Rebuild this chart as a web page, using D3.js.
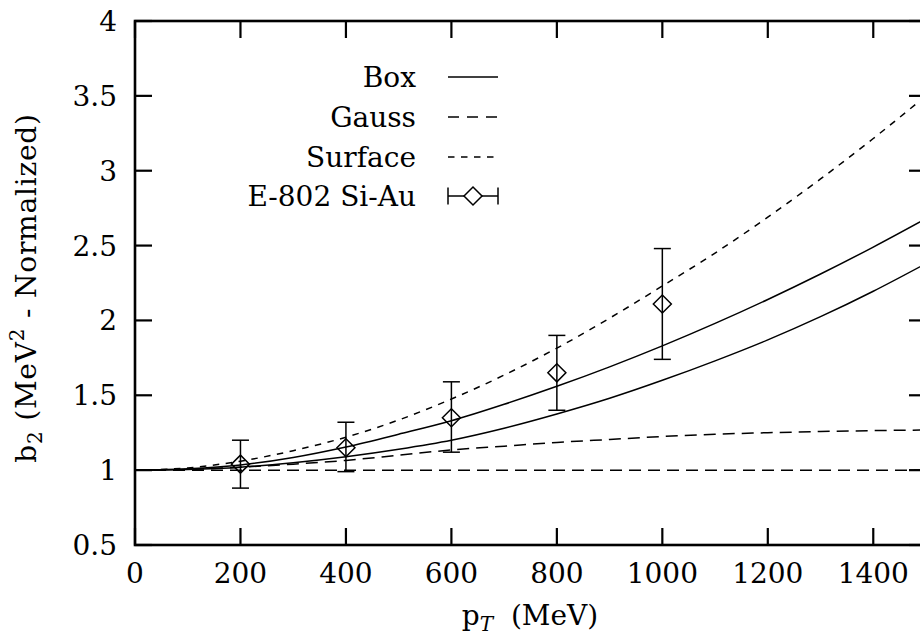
<!DOCTYPE html>
<html>
<head>
<meta charset="utf-8">
<script src="https://cdn.jsdelivr.net/npm/d3@7"></script>
<style>
  body { margin: 0; background: #fff; }
  svg text { font-family: "DejaVu Serif", "Liberation Serif", serif; font-size: 28px; fill: #000; }
</style>
</head>
<body>
<svg id="plot" width="920" height="635"></svg>
<script>
var pT = [0,100,200,300,400,500,600,700,800,900,1000,1100,1200,1300,1400,1500];
var boxUpper = [1.00,1.01,1.035,1.085,1.155,1.24,1.33,1.44,1.56,1.69,1.83,1.98,2.14,2.31,2.49,2.68];
var boxLower = [1.00,1.005,1.02,1.05,1.09,1.14,1.20,1.28,1.375,1.48,1.60,1.73,1.87,2.025,2.195,2.38];
var gaussUpper = [1.00,1.005,1.02,1.04,1.065,1.10,1.135,1.16,1.185,1.205,1.225,1.24,1.25,1.258,1.264,1.268];
var gaussLower = [1.00,1.00,1.00,1.00,1.00,1.00,1.00,1.00,1.00,1.00,1.00,1.00,1.00,1.00,1.00,1.00];
var surface = [1.00,1.015,1.06,1.13,1.22,1.335,1.475,1.635,1.815,2.015,2.23,2.45,2.69,2.945,3.215,3.50];

// E-802 Si-Au points with error bars
var expX = [200,400,600,800,1000];
var expY = [1.04,1.15,1.35,1.65,2.11];
var expLo = [0.88,0.99,1.12,1.40,1.74];
var expHi = [1.20,1.32,1.59,1.90,2.48];

var xTicks = [0,200,400,600,800,1000,1200,1400];
var yTicks = [0.5,1,1.5,2,2.5,3,3.5,4];
var legendNames = ["Box","Gauss","Surface","E-802 Si-Au"];

var svg = d3.select("#plot");

// plot box in pixels (right edge falls just past the window)
var pL = 135, pR = 926, pT0 = 21, pB = 545;

var x = d3.scaleLinear().domain([0,1500]).range([pL,pR]);
var y = d3.scaleLinear().domain([0.5,4]).range([pB,pT0]);

var tickLen = 17;

// ticks, all pointing in
var ticks = svg.append("g").attr("stroke","#000").attr("stroke-width",2.2);
xTicks.forEach(function(t) {
  ticks.append("line").attr("x1",x(t)).attr("x2",x(t)).attr("y1",pB).attr("y2",pB-tickLen);
  ticks.append("line").attr("x1",x(t)).attr("x2",x(t)).attr("y1",pT0).attr("y2",pT0+tickLen);
});
yTicks.forEach(function(t) {
  ticks.append("line").attr("x1",pL).attr("x2",pL+tickLen).attr("y1",y(t)).attr("y2",y(t));
  ticks.append("line").attr("x1",pR).attr("x2",pR-tickLen).attr("y1",y(t)).attr("y2",y(t));
});

// tick labels
svg.selectAll(".xlab")
    .data(xTicks)
  .enter().append("text")
    .attr("class","xlab")
    .attr("x", function(d) { return x(d); })
    .attr("y", 583)
    .attr("text-anchor","middle")
    .text(function(d) { return d; });

svg.selectAll(".ylab")
    .data(yTicks)
  .enter().append("text")
    .attr("class","ylab")
    .attr("x", 117)
    .attr("y", function(d) { return y(d) + 10; })
    .attr("text-anchor","end")
    .text(function(d) { return d; });

// frame
svg.append("rect")
    .attr("x",pL).attr("y",pT0)
    .attr("width",pR-pL).attr("height",pB-pT0)
    .attr("fill","none").attr("stroke","#000").attr("stroke-width",2.6);

// axis titles
var xt = svg.append("text").attr("x",530).attr("y",625).attr("text-anchor","middle");
xt.append("tspan").text("p");
xt.append("tspan").attr("font-style","italic").attr("font-size","20px").attr("dy",6).text("T");
xt.append("tspan").attr("dy",-6).text("\u00a0\u00a0(MeV)");

var yt = svg.append("text")
    .attr("transform","translate(36,288) rotate(-90)")
    .attr("text-anchor","middle")
    .attr("letter-spacing","0.8px");
yt.append("tspan").text("b");
yt.append("tspan").attr("font-size","20px").attr("dy",6).text("2");
yt.append("tspan").attr("dy",-6).text("\u00a0(MeV");
yt.append("tspan").attr("font-size","20px").attr("dy",-12).text("2");
yt.append("tspan").attr("dy",12).text("\u00a0-\u00a0Normalized)");

// curves
var line = d3.line()
    .x(function(d, i) { return x(pT[i]); })
    .y(function(d) { return y(d); })
    .curve(d3.curveMonotoneX);

var curves = [
  {vals: boxUpper, dash: null},
  {vals: boxLower, dash: null},
  {vals: gaussUpper, dash: "12,7"},
  {vals: gaussLower, dash: "12,7"},
  {vals: surface, dash: "6.5,6.5"}
];

svg.selectAll(".curve")
    .data(curves)
  .enter().append("path")
    .attr("class","curve")
    .attr("d", function(d) { return line(d.vals); })
    .attr("fill","none")
    .attr("stroke","#000")
    .attr("stroke-width",1.5)
    .attr("stroke-dasharray", function(d) { return d.dash; });

// data points
var capW = 8.5, dSize = 9;
var pts = svg.append("g").attr("stroke","#000").attr("stroke-width",1.5).attr("fill","none");
expX.forEach(function(px, i) {
  var cx = x(px);
  pts.append("line").attr("x1",cx).attr("x2",cx).attr("y1",y(expLo[i])).attr("y2",y(expHi[i]));
  pts.append("line").attr("x1",cx-capW).attr("x2",cx+capW).attr("y1",y(expLo[i])).attr("y2",y(expLo[i]));
  pts.append("line").attr("x1",cx-capW).attr("x2",cx+capW).attr("y1",y(expHi[i])).attr("y2",y(expHi[i]));
  var cy = y(expY[i]);
  pts.append("path")
     .attr("d","M"+(cx-dSize)+","+cy+"L"+cx+","+(cy-dSize)+"L"+(cx+dSize)+","+cy+"L"+cx+","+(cy+dSize)+"Z");
});

// legend
var legY = [77,117,157,196];
var lx1 = 448, lx2 = 498;
svg.selectAll(".legText")
    .data(legendNames)
  .enter().append("text")
    .attr("class","legText")
    .attr("x",416)
    .attr("y", function(d, i) { return legY[i] + 10; })
    .attr("text-anchor","end")
    .text(function(d) { return d; });

var legDash = [null,"11,8","6.5,6.5"];
var leg = svg.append("g").attr("stroke","#000").attr("stroke-width",1.5).attr("fill","none");
legDash.forEach(function(ds, i) {
  leg.append("line").attr("x1",lx1).attr("x2",lx2).attr("y1",legY[i]).attr("y2",legY[i])
     .attr("stroke-dasharray",ds);
});
var ly = legY[3], lc = (lx1+lx2)/2;
leg.append("line").attr("x1",lx1).attr("x2",lx2).attr("y1",ly).attr("y2",ly);
leg.append("line").attr("x1",lx1).attr("x2",lx1).attr("y1",ly-capW).attr("y2",ly+capW);
leg.append("line").attr("x1",lx2).attr("x2",lx2).attr("y1",ly-capW).attr("y2",ly+capW);
leg.append("path")
   .attr("d","M"+(lc-dSize)+","+ly+"L"+lc+","+(ly-dSize)+"L"+(lc+dSize)+","+ly+"L"+lc+","+(ly+dSize)+"Z")
   .attr("fill","#fff");
</script>
</body>
</html>
